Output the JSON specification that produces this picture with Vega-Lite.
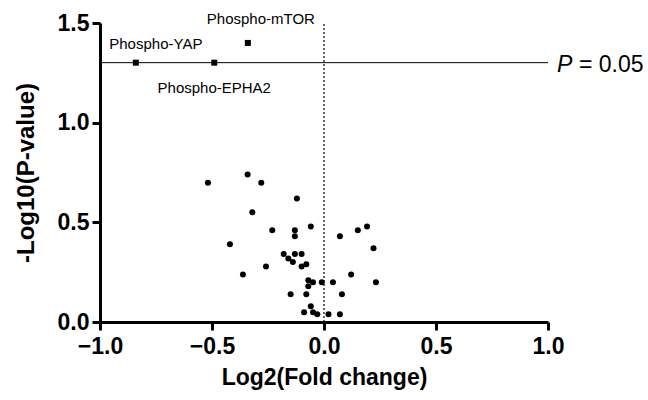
{
  "$schema": "https://vega.github.io/schema/vega-lite/v6.json",
  "width": 448,
  "height": 299,
  "autosize": {"type": "none"},
  "padding": {"left": 100, "top": 23, "right": 100, "bottom": 78},
  "background": "white",
  "config": {
    "view": {"stroke": null},
    "font": "Liberation Sans"
  },
  "datasets": {
    "points": [
      {"fc": -0.518, "p": 0.699}, {"fc": -0.341, "p": 0.740}, {"fc": -0.280, "p": 0.699},
      {"fc": -0.121, "p": 0.619}, {"fc": -0.320, "p": 0.550}, {"fc": -0.231, "p": 0.460},
      {"fc": -0.130, "p": 0.460}, {"fc": -0.130, "p": 0.430}, {"fc": -0.059, "p": 0.479},
      {"fc": -0.420, "p": 0.390}, {"fc": -0.180, "p": 0.341}, {"fc": -0.130, "p": 0.341},
      {"fc": -0.100, "p": 0.341}, {"fc": -0.159, "p": 0.318}, {"fc": -0.139, "p": 0.301},
      {"fc": -0.259, "p": 0.279}, {"fc": -0.100, "p": 0.279}, {"fc": -0.079, "p": 0.290},
      {"fc": -0.362, "p": 0.238}, {"fc": -0.070, "p": 0.209}, {"fc": -0.049, "p": 0.199},
      {"fc": -0.070, "p": 0.179}, {"fc": -0.010, "p": 0.199}, {"fc": 0.040, "p": 0.199},
      {"fc": -0.149, "p": 0.139}, {"fc": -0.079, "p": 0.139}, {"fc": 0.080, "p": 0.139},
      {"fc": -0.059, "p": 0.079}, {"fc": -0.089, "p": 0.049}, {"fc": -0.049, "p": 0.049},
      {"fc": -0.030, "p": 0.039}, {"fc": 0.020, "p": 0.039}, {"fc": 0.071, "p": 0.039},
      {"fc": 0.071, "p": 0.430}, {"fc": 0.151, "p": 0.460}, {"fc": 0.192, "p": 0.479},
      {"fc": 0.221, "p": 0.370}, {"fc": 0.121, "p": 0.238}, {"fc": 0.232, "p": 0.199}
    ],
    "hits": [
      {"name": "Phospho-YAP", "fc": -0.840, "p": 1.301},
      {"name": "Phospho-EPHA2", "fc": -0.490, "p": 1.301},
      {"name": "Phospho-mTOR", "fc": -0.340, "p": 1.400}
    ],
    "threshold": [{"fc": 1.0, "p": 1.301}]
  },
  "encoding": {
    "x": {
      "field": "fc", "type": "quantitative",
      "scale": {"domain": [-1, 1], "nice": false, "zero": false},
      "axis": {
        "title": "Log2(Fold change)",
        "values": [-1, -0.5, 0, 0.5, 1],
        "format": ".1f",
        "grid": false,
        "domainColor": "black", "domainWidth": 3,
        "tickColor": "black", "tickWidth": 3, "tickSize": 8,
        "labelFont": "Liberation Sans", "labelFontSize": 23, "labelFontWeight": "bold", "labelColor": "black",
        "labelPadding": 5, "labelFlush": false,
        "titleFont": "Liberation Sans", "titleFontSize": 23, "titleFontWeight": "bold", "titleColor": "black",
        "titlePadding": 8
      }
    },
    "y": {
      "field": "p", "type": "quantitative",
      "scale": {"domain": [0, 1.5], "nice": false},
      "axis": {
        "title": "-Log10(P-value)",
        "values": [0, 0.5, 1, 1.5],
        "format": ".1f",
        "grid": false,
        "domainColor": "black", "domainWidth": 3,
        "tickColor": "black", "tickWidth": 3, "tickSize": 8,
        "labelFont": "Liberation Sans", "labelFontSize": 23, "labelFontWeight": "bold", "labelColor": "black",
        "labelPadding": 3, "labelFlush": false,
        "titleFont": "Liberation Sans", "titleFontSize": 24, "titleFontWeight": "bold", "titleColor": "black",
        "titlePadding": 19
      }
    }
  },
  "layer": [
    {
      "data": {"name": "threshold"},
      "mark": {"type": "rule", "color": "black", "strokeWidth": 1.2, "strokeDash": [2, 2]},
      "encoding": {"x": {"datum": 0}, "y": {"datum": 0}, "y2": {"datum": 1.5}}
    },
    {
      "data": {"name": "threshold"},
      "mark": {"type": "rule", "color": "black", "strokeWidth": 1},
      "encoding": {"x": {"datum": -1}, "x2": {"field": "fc"}}
    },
    {
      "data": {"name": "points"},
      "mark": {"type": "point", "shape": "circle", "filled": true, "color": "black", "opacity": 1, "size": 36}
    },
    {
      "data": {"name": "hits"},
      "mark": {"type": "point", "shape": "square", "filled": true, "color": "black", "opacity": 1, "size": 36}
    },
    {
      "data": {"name": "hits"},
      "transform": [{"filter": "datum.name === 'Phospho-YAP'"}],
      "mark": {"type": "text", "font": "Liberation Sans", "fontSize": 15, "align": "center", "baseline": "alphabetic", "dx": 20, "dy": -14, "color": "black"},
      "encoding": {"text": {"field": "name"}}
    },
    {
      "data": {"name": "hits"},
      "transform": [{"filter": "datum.name === 'Phospho-EPHA2'"}],
      "mark": {"type": "text", "font": "Liberation Sans", "fontSize": 15, "align": "center", "baseline": "alphabetic", "dx": 0, "dy": 30, "color": "black"},
      "encoding": {"text": {"field": "name"}}
    },
    {
      "data": {"name": "hits"},
      "transform": [{"filter": "datum.name === 'Phospho-mTOR'"}],
      "mark": {"type": "text", "font": "Liberation Sans", "fontSize": 15, "align": "center", "baseline": "alphabetic", "dx": 13, "dy": -19, "color": "black"},
      "encoding": {"text": {"field": "name"}}
    },
    {
      "data": {"name": "threshold"},
      "mark": {"type": "text", "font": "Liberation Sans", "fontSize": 23, "fontStyle": "italic", "align": "left", "baseline": "alphabetic", "dx": 9, "dy": 9, "color": "black"},
      "encoding": {"text": {"value": "P"}}
    },
    {
      "data": {"name": "threshold"},
      "mark": {"type": "text", "font": "Liberation Sans", "fontSize": 23, "align": "left", "baseline": "alphabetic", "dx": 31, "dy": 9, "color": "black"},
      "encoding": {"text": {"value": "= 0.05"}}
    }
  ]
}
